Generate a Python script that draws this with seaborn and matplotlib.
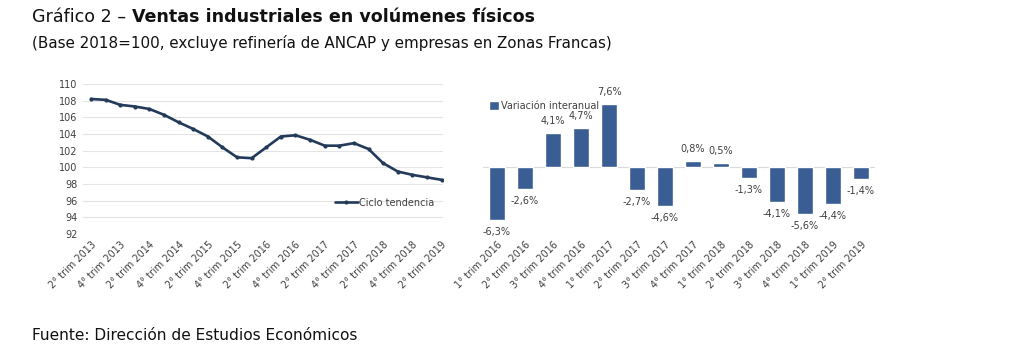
import matplotlib
matplotlib.use("Agg")
import matplotlib.pyplot as plt
import seaborn as sns
import pandas as pd
import numpy as np

sns.set_theme(style="white")
plt.rcParams['font.family'] = ['DejaVu Sans']

# ---- data ----
line_quarters = ["2° trim 2013", "3° trim 2013", "4° trim 2013", "1° trim 2014", "2° trim 2014",
                 "3° trim 2014", "4° trim 2014", "1° trim 2015", "2° trim 2015", "3° trim 2015",
                 "4° trim 2015", "1° trim 2016", "2° trim 2016", "3° trim 2016", "4° trim 2016",
                 "1° trim 2017", "2° trim 2017", "3° trim 2017", "4° trim 2017", "1° trim 2018",
                 "2° trim 2018", "3° trim 2018", "4° trim 2018", "1° trim 2019", "2° trim 2019"]
ciclo_tendencia = [108.2, 108.1, 107.5, 107.3, 107.0, 106.3, 105.4, 104.6, 103.7, 102.4,
                   101.2, 101.1, 102.4, 103.7, 103.85, 103.3, 102.6, 102.6, 102.9, 102.2,
                   100.5, 99.5, 99.1, 98.8, 98.5]
y_ticks = [92, 94, 96, 98, 100, 102, 104, 106, 108, 110]

bar_quarters = ["1° trim 2016", "2° trim 2016", "3° trim 2016", "4° trim 2016",
                "1° trim 2017", "2° trim 2017", "3° trim 2017", "4° trim 2017",
                "1° trim 2018", "2° trim 2018", "3° trim 2018", "4° trim 2018",
                "1° trim 2019", "2° trim 2019"]
variacion = [-6.3, -2.6, 4.1, 4.7, 7.6, -2.7, -4.6, 0.8, 0.5, -1.3, -4.1, -5.6, -4.4, -1.4]

line_color = "#233a5a"
bar_color = "#3a5e94"
text_grey = "#404040"
W, H = 1024, 359

fig = plt.figure(figsize=(10.24, 3.59), dpi=100)
fig.patch.set_facecolor("white")
renderer = fig.canvas.get_renderer()

# ---- titles ----
title_size = 12.6
t1 = fig.text(32/W, 1-17/H, "Gráfico 2 – ", fontsize=title_size, va="center", ha="left", color="#111111")
bb = t1.get_window_extent(renderer=renderer)
fig.text(bb.x1/W, 1-17/H, "Ventas industriales en volúmenes físicos", fontsize=title_size,
         fontweight="bold", va="center", ha="left", color="#111111")
fig.text(32/W, 1-43/H, "(Base 2018=100, excluye refinería de ANCAP y empresas en Zonas Francas)",
         fontsize=10.9, va="center", ha="left", color="#111111")
fig.text(32/W, 1-335/H, "Fuente: Dirección de Estudios Económicos",
         fontsize=11.1, va="center", ha="left", color="#111111")

# ---- line chart ----
ax1 = fig.add_axes([83/W, 1-234/H, (443-83)/W, 150/H])
df_line = pd.DataFrame({"x": np.arange(len(line_quarters)), "v": ciclo_tendencia})
sns.lineplot(data=df_line, x="x", y="v", ax=ax1, color=line_color, linewidth=1.9,
             marker="o", markersize=3, markeredgewidth=0, label="Ciclo tendencia")
ax1.set_ylim(92, 110)
ax1.set_xlim(-0.55, 24.1)
ax1.set_yticks(y_ticks)
ax1.set_yticklabels([str(t) for t in y_ticks], fontsize=7, color=text_grey)
ax1.yaxis.grid(True, color="#e3e3e3", linewidth=0.8)
ax1.xaxis.grid(False)
ax1.set_xticks(np.arange(0, len(line_quarters), 2))
ax1.set_xticklabels(line_quarters[::2], rotation=45, ha="right", rotation_mode="anchor",
                    fontsize=7, color=text_grey)
ax1.tick_params(axis="both", length=0, pad=4)
ax1.set_xlabel("")
ax1.set_ylabel("")
for s in ax1.spines.values():
    s.set_visible(False)
leg1 = ax1.legend(loc="center left", bbox_to_anchor=(0.69, 0.21), frameon=False, fontsize=7,
                  handlelength=2.3, handletextpad=0.1, borderaxespad=0)
for t in leg1.get_texts():
    t.set_color(text_grey)

# ---- bar chart ----
ax2 = fig.add_axes([483/W, 1-234/H, (875-483)/W, 150/H])
df_bar = pd.DataFrame({"q": bar_quarters, "v": variacion})
sns.barplot(data=df_bar, x="q", y="v", ax=ax2, color=bar_color, width=0.58,
            saturation=1, label="Variación interanual")
ax2.set_ylim(-8, 10)
ax2.set_xlim(-0.5, len(bar_quarters) - 0.5)
ax2.axhline(0, color="#d9d9d9", linewidth=0.8, zorder=0)
ax2.set_yticks([])
ax2.set_xlabel("")
ax2.set_ylabel("")
ax2.set_xticks(np.arange(len(bar_quarters)))
ax2.set_xticklabels(bar_quarters, rotation=45, ha="right", rotation_mode="anchor",
                    fontsize=7, color=text_grey)
ax2.tick_params(axis="x", length=0, pad=4)
for s in ax2.spines.values():
    s.set_visible(False)
for i, v in enumerate(variacion):
    lbl = f"{v:.1f}%".replace(".", ",")
    off = 8.7 if v >= 0 else -8.7
    ax2.annotate(lbl, (i, v), xytext=(0, off), textcoords="offset points",
                 ha="center", va="center", fontsize=7, color=text_grey)
leg2 = ax2.legend(loc="center left", bbox_to_anchor=(0.005, 0.853), frameon=False, fontsize=7,
                  handlelength=1.05, handleheight=1.05, handletextpad=0.25, borderaxespad=0)
for t in leg2.get_texts():
    t.set_color(text_grey)

fig.savefig("out.png", dpi=100, facecolor="white")
